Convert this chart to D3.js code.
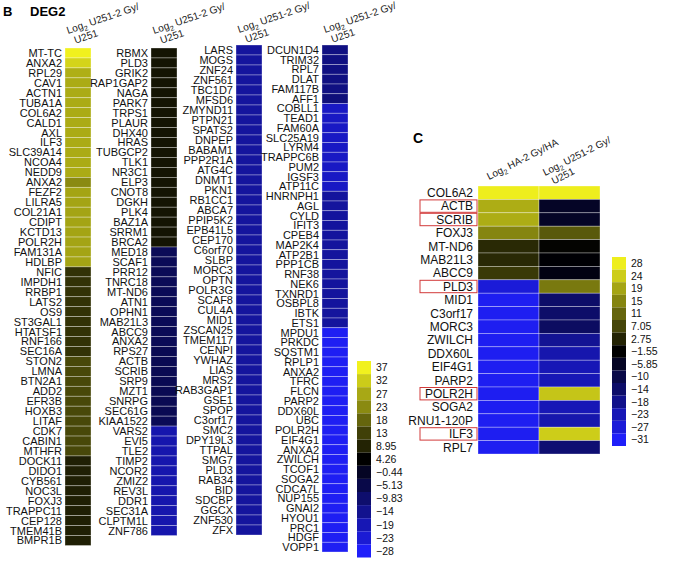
<!DOCTYPE html>
<html>
<head>
<meta charset="utf-8">
<script src="https://cdn.jsdelivr.net/npm/d3@7"></script>
<style>
  body { margin: 0; background: #fff; }
  svg { display: block; font-family: "Liberation Sans", Arial, sans-serif; }
</style>
</head>
<body>
<svg id="chart" width="673" height="572"></svg>
<script>
// ---- panel B data (DEG2), four columns of genes ----
const genesB1 = ['MT-TC','ANXA2','RPL29','CAV1','ACTN1','TUBA1A','COL6A2','CALD1','AXL','ILF3',
  'SLC39A14','NCOA4','NEDD9','ANXA2','FEZF2','LILRA5','COL21A1','CDIPT','KCTD13','POLR2H',
  'FAM131A','HDLBP','NFIC','IMPDH1','RRBP1','LATS2','OS9','ST3GAL1','HTATSF1','RNF166',
  'SEC16A','STON2','LMNA','BTN2A1','ADD2','EFR3B','HOXB3','LITAF','CDK7','CABIN1',
  'MTHFR','DOCK11','DIDO1','CYB561','NOC3L','FOXJ3','TRAPPC11','CEP128','TMEM41B','BMPR1B']
const valuesB1 = [37, 33, 28, 27.5, 27.5, 27.5, 27.5, 27.5, 27.5, 27.5,
  27.5, 27.5, 27.5, 23, 26.5, 26.5, 26.5, 26.5, 26.5, 26.5,
  26.5, 26.5, 11, 11, 11, 11, 11, 11, 11, 11,
  11, 14, 14, 14, 14, 14, 14, 14, 14, 14,
  14, 8.5, 8.5, 8.5, 8.5, 8.5, 8.5, 8.5, 8.5, 8.5]

const genesB2 = ['RBMX','PLD3','GRIK2','RAP1GAP2','NAGA','PARK7','TRPS1','PLAUR','DHX40','HRAS',
  'TUBGCP2','TLK1','NR3C1','ELP3','CNOT8','DGKH','PLK4','BAZ1A','SRRM1','BRCA2',
  'MED18','SCAF1','PRR12','TNRC18','MT-ND6','ATN1','OPHN1','MAB21L3','ABCC9','ANXA2',
  'RPS27','ACTB','SCRIB','SRP9','MZT1','SNRPG','SEC61G','KIAA1522','VARS2','EVI5',
  'TLE2','TIMP2','NCOR2','ZMIZ2','REV3L','DDR1','SEC31A','CLPTM1L','ZNF786']
const valuesB2 = [7, 7, 7, 7, 7, 7, 7, 7, 7, 7,
  7, 7, 7, 7, 7, 7, 7, 7, 7, 7,
  -7, -7, -7, -7, -7, -7, -7, -7, -7, -7,
  -6.5, -6.5, -6.5, -6.5, -6.5, -6.5, -6.5, -7, -18, -18,
  -18, -18, -18, -18, -18, -18, -18, -18, -18]

const genesB3 = ['LARS','MOGS','ZNF24','ZNF561','TBC1D7','MFSD6','ZMYND11','PTPN21','SPATS2','DNPEP',
  'BABAM1','PPP2R1A','ATG4C','DNMT1','PKN1','RB1CC1','ABCA7','PPIP5K2','EPB41L5','CEP170',
  'C6orf70','SLBP','MORC3','OPTN','POLR3G','SCAF8','CUL4A','MID1','ZSCAN25','TMEM117',
  'CENPI','YWHAZ','LIAS','MRS2','RAB3GAP1','GSE1','SPOP','C3orf17','SMC2','DPY19L3',
  'TTPAL','SMG7','PLD3','RAB34','BID','SDCBP','GGCX','ZNF530','ZFX']
const valuesB3 = [-16, -16, -16, -16, -16, -16, -16, -16, -16, -16,
  -16, -16, -16, -16, -16, -16, -16, -16, -16, -16,
  -16, -16, -16, -16, -16, -16, -16, -16, -16, -16,
  -16, -16, -16, -16, -16, -16, -16, -16, -16, -16,
  -16, -16, -16, -16, -16, -16, -16, -16, -16]

const genesB4 = ['DCUN1D4','TRIM32','RPL7','DLAT','FAM117B','AFF1','COBLL1','TEAD1','FAM60A','SLC25A19',
  'LYRM4','TRAPPC6B','PUM2','IGSF3','ATP11C','HNRNPH1','AGL','CYLD','IFIT3','CPEB4',
  'MAP2K4','ATP2B1','PPP1CB','RNF38','NEK6','TXNRD1','OSBPL8','IBTK','ETS1','MPDU1',
  'PRKDC','SQSTM1','RPLP1','ANXA2','TFRC','FLCN','PARP2','DDX60L','UBC','POLR2H',
  'EIF4G1','ANXA2','ZWILCH','TCOF1','SOGA2','CDCA7L','NUP155','GNAI2','HYOU1','PRC1',
  'HDGF','VOPP1']
const valuesB4 = [-12.5, -12.5, -12.5, -12.5, -12.5, -11.5, -21, -21, -21, -21,
  -21, -21, -21, -21, -21, -16, -16, -16, -16, -16,
  -16, -16, -16, -16, -16, -16, -16, -16, -16, -27,
  -27, -27, -27, -27, -27, -27, -27, -27, -27, -27,
  -27, -27, -27, -27, -27, -27, -27, -27, -27, -27,
  -27, -27]

const legendBTicks = [37, 32, 27, 23, 18, 13, 8.95, 4.26, -0.44, -5.13, -9.83, -14, -19, -23, -28]
const domainB = [-28.6, 37.1]

// ---- panel C data ----
const genesC = ['COL6A2','ACTB','SCRIB','FOXJ3','MT-ND6','MAB21L3','ABCC9','PLD3','MID1','C3orf17',
  'MORC3','ZWILCH','DDX60L','EIF4G1','PARP2','POLR2H','SOGA2','RNU1-120P','ILF3','RPL7']
const valuesC_HA = [28, 20, 20, 15, 3.5, 3.5, 5.5, -27, -30, -30,
  -30, -30, -30, -30, -30, -30, -30, -30, -30, -30]
const valuesC_U251 = [28, -6, -6, 9.5, -1, -2, -3.5, 13.5, -14, -14,
  -13, -19, -22, -23, -23, 23, -23, -22, 24, -15]
const boxedC = ['ACTB', 'SCRIB', 'PLD3', 'POLR2H', 'ILF3']
const legendCTicks = [28, 24, 19, 15, 11, 7.05, 2.75, -1.55, -5.85, -10, -14, -18, -23, -27, -31]
const domainC = [-31.65, 28.55]

const svg = d3.select('#chart')

function makeColor(domain) {
  const [lo, hi] = domain
  return d3.scaleLinear()
    .domain([lo, (lo + hi) / 2, hi])
    .range(['#2020ff', '#000000', '#f2f21e'])
    .interpolate(d3.interpolateRgb)
    .clamp(true)
}
const colorB = makeColor(domainB)
const colorC = makeColor(domainC)

const fmt = (v) => (v < 0 ? '\u2212' + String(-v) : String(v))

// rotated column header: "Log2 <name>-2 Gy/" + optional second line
function header(g, x, y, angle, size, line1, line2) {
  const t = g.append('g').attr('transform', `translate(${x},${y}) rotate(${angle})`)
  const l = t.append('text').attr('font-size', size).attr('fill', '#222')
  l.append('tspan').text('Log')
  l.append('tspan').attr('font-size', size * 0.7).attr('dy', 3).text('2')
  l.append('tspan').attr('dy', -3).text(' ' + line1)
  if (line2) t.append('text').attr('x', 4).attr('y', size * 1.15).attr('font-size', size).attr('fill', '#222').text(line2)
}

// one heatmap column with gene labels on the left
function column(genes, values, color, x0, top, rowH, w, fontSize, gap) {
  const g = svg.append('g')
  const y = d3.scaleBand().domain(d3.range(genes.length)).range([top, top + rowH * genes.length])
  g.selectAll('rect')
    .data(values)
    .join('rect')
    .attr('x', x0)
    .attr('y', (d, i) => y(i))
    .attr('width', w)
    .attr('height', y.bandwidth())
    .attr('fill', (d) => color(d))
    .attr('stroke', '#ffffff')
    .attr('stroke-opacity', 0.45)
    .attr('stroke-width', 0.7)
  g.selectAll('text.lab')
    .data(genes)
    .join('text')
    .attr('class', 'lab')
    .attr('x', x0 - gap)
    .attr('y', (d, i) => y(i) + y.bandwidth() / 2)
    .attr('dy', '0.36em')
    .attr('text-anchor', 'end')
    .attr('font-size', fontSize)
    .attr('fill', '#111')
    .text((d) => d)
  return y
}

function legend(ticks, color, x0, top, h) {
  const g = svg.append('g')
  const y = d3.scaleBand().domain(d3.range(ticks.length)).range([top, top + h * ticks.length])
  g.selectAll('rect')
    .data(ticks)
    .join('rect')
    .attr('x', x0)
    .attr('y', (d, i) => y(i))
    .attr('width', 14)
    .attr('height', y.bandwidth())
    .attr('fill', (d) => color(d))
  g.selectAll('text')
    .data(ticks)
    .join('text')
    .attr('x', x0 + 19)
    .attr('y', (d, i) => y(i) + y.bandwidth() / 2)
    .attr('dy', '0.36em')
    .attr('font-size', 10.5)
    .attr('fill', '#111')
    .text((d) => fmt(d))
}

// ---- panel B ----
svg.append('text').attr('x', 3).attr('y', 16).attr('font-size', 13).attr('font-weight', 'bold').text('B')
svg.append('text').attr('x', 30).attr('y', 16).attr('font-size', 13).attr('font-weight', 'bold').text('DEG2')

const colsB = [
  { genes: genesB1, values: valuesB1, x: 65, top: 48, rowH: 9.95 },
  { genes: genesB2, values: valuesB2, x: 151, top: 48, rowH: 9.95 },
  { genes: genesB3, values: valuesB3, x: 236, top: 45, rowH: 10.0 },
  { genes: genesB4, values: valuesB4, x: 322, top: 45, rowH: 9.75 },
]
colsB.forEach((c) => {
  column(c.genes, c.values, colorB, c.x, c.top, c.rowH, 26, 11, 3)
  header(svg, c.x + 3, c.top - 14 + (c.top < 48 ? 2 : 0), -19, 10.2, 'U251-2 Gy/', 'U251')
})
legend(legendBTicks, colorB, 357, 361, 13.1)

// ---- panel C ----
svg.append('text').attr('x', 413).attr('y', 143).attr('font-size', 14).attr('font-weight', 'bold').text('C')
const topC = 186, rowC = 13.4, wC = 61
const yC = column(genesC, valuesC_HA, colorC, 478, topC, rowC, wC, 12, 5)
column(genesC.map(() => ''), valuesC_U251, colorC, 478 + wC, topC, rowC, wC, 12, 5)
header(svg, 489, topC - 6, -27, 10, 'HA-2 Gy/HA', null)
header(svg, 478 + wC + 6, topC - 10, -27, 10, 'U251-2 Gy/', 'U251')

svg.append('g').selectAll('rect')
  .data(genesC.map((d, i) => ({ d, i })).filter((o) => boxedC.includes(o.d)))
  .join('rect')
  .attr('x', 420)
  .attr('y', (o) => yC(o.i) + 0.5)
  .attr('width', 57)
  .attr('height', yC.bandwidth() - 1)
  .attr('fill', 'none')
  .attr('stroke', '#d23a3a')
  .attr('stroke-width', 1)

legend(legendCTicks, colorC, 612, 257, 12.6)
</script>
</body>
</html>
